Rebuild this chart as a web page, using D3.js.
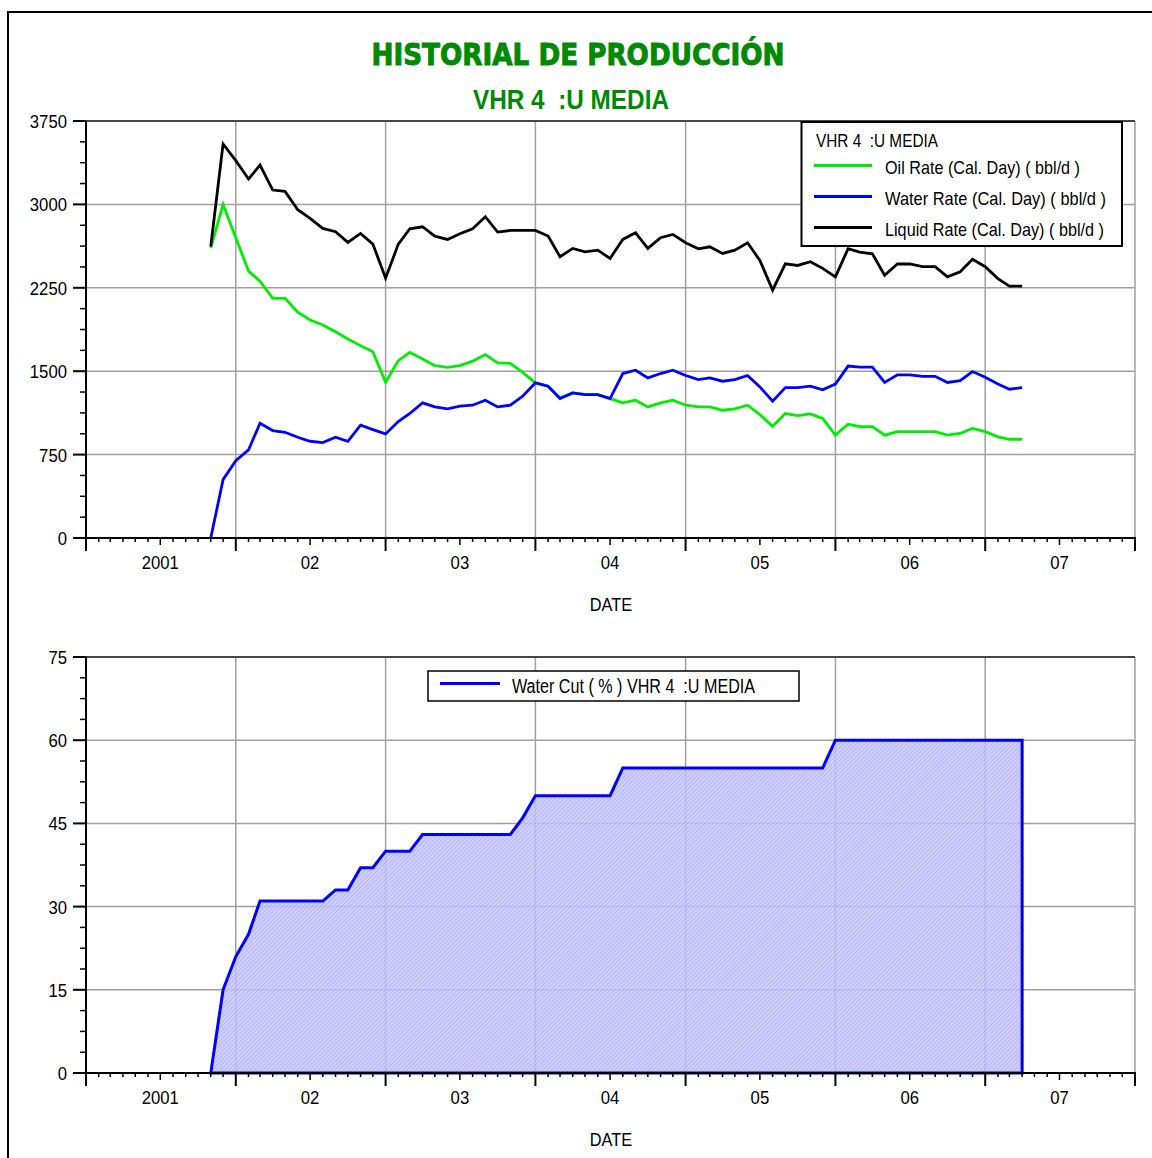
<!DOCTYPE html>
<html>
<head>
<meta charset="utf-8">
<script src="https://cdn.jsdelivr.net/npm/d3@7"></script>
<style>
  html, body { margin: 0; padding: 0; background: #fff; }
  svg { display: block; }
  text { font-family: "Liberation Sans", Arial, sans-serif; fill: #000; }
</style>
</head>
<body>
<svg id="chart" width="1152" height="1158"></svg>
<script>
// monthly samples, Nov 2001 .. Apr 2007
const months = d3.timeMonth.range(new Date(2001, 10, 1), new Date(2007, 4, 1));

const oilRate = [
  2610, 3000, 2700, 2400, 2310, 2155, 2155, 2030, 1960, 1915,
  1855, 1790, 1730, 1675, 1400, 1595, 1670, 1610, 1550, 1535,
  1550, 1590, 1650, 1575, 1570, 1490, 1395, 1365, 1260, 1305,
  1290, 1290, 1254, 1215, 1239, 1179, 1215, 1239, 1194, 1179,
  1179, 1149, 1161, 1194, 1110, 1005, 1119, 1101, 1116, 1076,
  925, 1023, 1001, 1001, 925, 956, 956, 956, 956, 925,
  940, 986, 956, 910, 888, 888
];
const waterRate = [
  0, 525, 696, 792, 1032, 966, 951, 906, 870, 858,
  906, 870, 1014, 975, 936, 1047, 1120, 1215, 1179, 1161,
  1185, 1194, 1239, 1179, 1194, 1275, 1395, 1365, 1254, 1305,
  1290, 1290, 1254, 1479, 1509, 1440, 1479, 1509, 1461, 1425,
  1440, 1410, 1425, 1461, 1359, 1230, 1353, 1353, 1365, 1332,
  1384, 1546, 1537, 1537, 1399, 1467, 1467, 1454, 1454, 1399,
  1415, 1497, 1445, 1384, 1338, 1353
];
const liquidRate = [
  2622, 3543, 3393, 3228, 3354, 3129, 3117, 2952, 2874, 2784,
  2754, 2658, 2739, 2643, 2337, 2643, 2781, 2799, 2715, 2685,
  2736, 2781, 2889, 2751, 2766, 2766, 2766, 2715, 2529, 2604,
  2574, 2589, 2514, 2685, 2745, 2604, 2700, 2730, 2655, 2601,
  2619, 2559, 2589, 2655, 2496, 2229, 2466, 2451, 2484, 2425,
  2348, 2602, 2571, 2556, 2363, 2464, 2464, 2440, 2440, 2348,
  2394, 2507, 2440, 2333, 2265, 2265
];
const waterCut = [
  0, 15, 21, 25, 31, 31, 31, 31, 31, 31,
  33, 33, 37, 37, 40, 40, 40, 43, 43, 43,
  43, 43, 43, 43, 43, 46, 50, 50, 50, 50,
  50, 50, 50, 55, 55, 55, 55, 55, 55, 55,
  55, 55, 55, 55, 55, 55, 55, 55, 55, 55,
  60, 60, 60, 60, 60, 60, 60, 60, 60, 60,
  60, 60, 60, 60, 60, 60
];

const years = [2001, 2002, 2003, 2004, 2005, 2006, 2007];
const yearLabels = ['2001', '02', '03', '04', '05', '06', '07'];
const rateTicks = [0, 750, 1500, 2250, 3000, 3750];
const cutTicks = [0, 15, 30, 45, 60, 75];

const rateSeries = [
  { name: 'Oil Rate (Cal. Day) ( bbl/d )', values: oilRate, color: '#00ee00', len: 195 },
  { name: 'Water Rate (Cal. Day) ( bbl/d )', values: waterRate, color: '#0000ff', len: 221 },
  { name: 'Liquid Rate (Cal. Day) ( bbl/d )', values: liquidRate, color: '#000000', len: 219 },
];

const svg = d3.select('#chart');
const green = '#008a00';

// page frame
svg.append('path').attr('d', 'M8,1158V12H1152').attr('fill', 'none').attr('stroke', '#000').attr('stroke-width', 2);

// titles
svg.append('text').attr('x', 578).attr('y', 65).attr('text-anchor', 'middle')
  .style('font-family', '"DejaVu Sans", sans-serif').style('font-weight', 'bold').style('font-size', '30px')
  .style('fill', green).attr('stroke', green).attr('stroke-width', 1)
  .attr('textLength', 413).attr('lengthAdjust', 'spacingAndGlyphs')
  .text('HISTORIAL DE PRODUCCIÓN');
svg.append('text').attr('x', 571).attr('y', 109).attr('text-anchor', 'middle')
  .style('font-weight', 'bold').style('font-size', '28px').style('fill', green).style('white-space', 'pre')
  .attr('textLength', 196).attr('lengthAdjust', 'spacingAndGlyphs')
  .text('VHR 4  :U MEDIA');

const x = d3.scaleTime().domain([new Date(2001, 0, 1), new Date(2008, 0, 1)]).range([86, 1135]);

function squeeze(sel, k) {
  sel.each(function () {
    const w = this.getComputedTextLength();
    d3.select(this).attr('textLength', w * k).attr('lengthAdjust', 'spacingAndGlyphs');
  });
}

function panel(yTop, yBottom, yMax, yTicks) {
  const y = d3.scaleLinear().domain([0, yMax]).range([yBottom, yTop]);
  const g = svg.append('g');
  const grid = g.append('g').attr('stroke', '#a0a0a0').attr('stroke-width', 1.5);
  yTicks.slice(1).forEach((t) => {
    grid.append('line').attr('x1', 86).attr('x2', 1135).attr('y1', y(t)).attr('y2', y(t));
  });
  years.slice(1).concat([2008]).forEach((yr) => {
    const xx = x(new Date(yr, 0, 1));
    grid.append('line').attr('x1', xx).attr('x2', xx).attr('y1', yTop).attr('y2', yBottom);
  });
  // top edge + left axis
  g.append('line').attr('x1', 86).attr('x2', 1135).attr('y1', yTop).attr('y2', yTop)
    .attr('stroke', '#222').attr('stroke-width', 1.5);
  g.append('line').attr('x1', 86).attr('x2', 86).attr('y1', yTop).attr('y2', yBottom)
    .attr('stroke', '#000').attr('stroke-width', 2);

  const axes = svg.append('g').attr('class', 'axes');
  // y ticks
  const step = yTicks[1] - yTicks[0];
  d3.range(0, yMax + 0.001, step / 4).forEach((v, i) => {
    const major = i % 4 === 0;
    axes.append('line').attr('x1', major ? 73 : 80).attr('x2', 86).attr('y1', y(v)).attr('y2', y(v))
      .attr('stroke', '#000').attr('stroke-width', major ? 2 : 1.5);
  });
  const yl = axes.selectAll('.ylab').data(yTicks).join('text')
    .attr('x', 67).attr('y', (d) => y(d) + 7).attr('text-anchor', 'end')
    .style('font-size', '19px').text((d) => d);
  squeeze(yl, 0.88);

  // x axis
  axes.append('line').attr('x1', 84).attr('x2', 1136).attr('y1', yBottom).attr('y2', yBottom)
    .attr('stroke', '#000').attr('stroke-width', 2);
  d3.timeMonth.range(new Date(2001, 0, 1), new Date(2008, 1, 1)).forEach((m) => {
    const isYear = m.getMonth() === 0;
    const isMid = m.getMonth() === 6;
    const len = isYear ? 13 : isMid ? 7 : 4;
    axes.append('line').attr('x1', x(m)).attr('x2', x(m)).attr('y1', yBottom).attr('y2', yBottom + len)
      .attr('stroke', '#000').attr('stroke-width', isYear ? 2 : 1.5);
  });
  const xl = axes.selectAll('.xlab').data(years).join('text')
    .attr('x', (d) => x(new Date(d, 6, 1))).attr('y', yBottom + 31).attr('text-anchor', 'middle')
    .style('font-size', '19px').text((d, i) => yearLabels[i]);
  squeeze(xl, 0.88);
  const dl = axes.append('text').attr('x', 611).attr('y', yBottom + 73).attr('text-anchor', 'middle')
    .style('font-size', '19px').text('DATE');
  squeeze(dl, 0.86);
  return { y, g };
}

// ---------- upper panel: rates ----------
const ratePanel = panel(121, 538, 3750, rateTicks);
const line = d3.line().x((d, i) => x(months[i])).y((d) => ratePanel.y(d));
rateSeries.forEach((s) => {
  ratePanel.g.append('path').datum(s.values).attr('d', line)
    .attr('fill', 'none').attr('stroke', s.color).attr('stroke-width', 2.8)
    .attr('stroke-linejoin', 'miter');
});

const leg = svg.append('g');
leg.append('rect').attr('x', 801.5).attr('y', 122).attr('width', 320.5).attr('height', 124)
  .attr('fill', '#fff').attr('stroke', '#000').attr('stroke-width', 2);
leg.append('text').attr('x', 816).attr('y', 147).style('font-size', '18px').style('white-space', 'pre')
  .attr('textLength', 122).attr('lengthAdjust', 'spacingAndGlyphs').text('VHR 4  :U MEDIA');
rateSeries.forEach((s, i) => {
  const ly = 165.5 + i * 31;
  leg.append('line').attr('x1', 814).attr('x2', 872).attr('y1', ly).attr('y2', ly)
    .attr('stroke', s.color).attr('stroke-width', 3);
  leg.append('text').attr('x', 885).attr('y', ly + 8.5).style('font-size', '19px')
    .attr('textLength', s.len).attr('lengthAdjust', 'spacingAndGlyphs').text(s.name);
});

// ---------- lower panel: water cut ----------
const defs = svg.append('defs');
const pat = defs.append('pattern').attr('id', 'hatch').attr('patternUnits', 'userSpaceOnUse')
  .attr('width', 3).attr('height', 3).attr('patternTransform', 'rotate(-45)');
pat.append('rect').attr('width', 3).attr('height', 3).attr('fill', '#c8c8ff');
pat.append('line').attr('x1', 0).attr('x2', 3).attr('y1', 0.5).attr('y2', 0.5)
  .attr('stroke', '#a8a8f0').attr('stroke-width', 1);

const cutPanel = panel(657, 1073, 75, cutTicks);
const area = d3.area().x((d, i) => x(months[i])).y0(cutPanel.y(0)).y1((d) => cutPanel.y(d));
cutPanel.g.append('path').datum(waterCut).attr('d', (d) => area(d))
  .attr('fill', 'url(#hatch)').attr('fill-opacity', 0.85)
  .attr('stroke', '#0000ff').attr('stroke-width', 3).attr('stroke-linejoin', 'miter');

const leg2 = svg.append('g');
leg2.append('rect').attr('x', 428).attr('y', 671).attr('width', 371).attr('height', 30)
  .attr('fill', '#fff').attr('stroke', '#000').attr('stroke-width', 1.5);
leg2.append('line').attr('x1', 440).attr('x2', 500).attr('y1', 683.5).attr('y2', 683.5)
  .attr('stroke', '#0000ff').attr('stroke-width', 3);
leg2.append('text').attr('x', 512).attr('y', 693).style('font-size', '20px').style('white-space', 'pre')
  .attr('textLength', 243).attr('lengthAdjust', 'spacingAndGlyphs')
  .text('Water Cut ( % ) VHR 4  :U MEDIA');
</script>
</body>
</html>
